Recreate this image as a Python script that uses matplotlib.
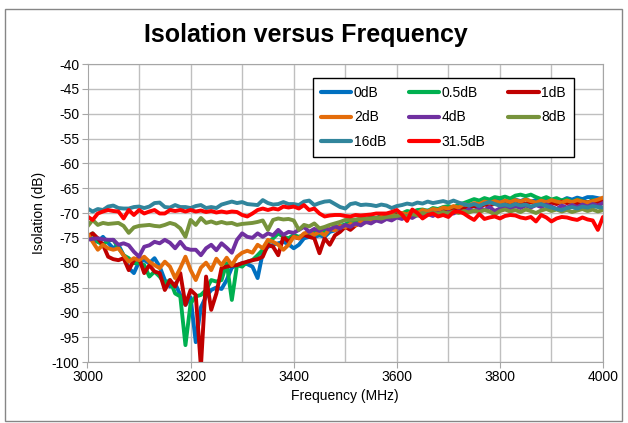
import numpy as np
import matplotlib
matplotlib.use('Agg')
import matplotlib.pyplot as plt
from matplotlib.patches import Rectangle
from matplotlib.ticker import MultipleLocator

plt.rcParams['font.family'] = ['Liberation Sans', 'DejaVu Sans']
plt.rcParams['axes.unicode_minus'] = False

# frequency axis, 10 MHz steps
freq = np.arange(3000, 4001, 10)

db0 = [-74.4, -75.5, -75.8, -74.8, -76.0, -77.1, -76.4, -78.5, -81.1, -82.1,
       -79.8, -79.5, -80.1, -79.1, -80.8, -83.5, -84.8, -84.2, -86.5, -88.5,
       -87.0, -96.0, -89.0, -86.8, -85.5, -85.0, -85.3, -83.5, -81.0, -80.5,
       -80.1, -80.3, -80.8, -83.1, -78.0, -76.8, -76.4, -76.1, -75.8, -76.3,
       -77.1, -76.4, -75.1, -74.8, -74.8, -74.5, -74.8, -73.8, -73.5, -73.0,
       -72.6, -72.2, -72.4, -71.6, -71.2, -71.0, -71.3, -70.8, -70.5, -70.8,
       -70.2, -70.5, -70.0, -69.8, -70.2, -69.6, -69.5, -69.8, -69.2, -69.4,
       -69.0, -68.8, -69.1, -68.4, -68.2, -68.5, -67.6, -67.2, -67.5, -67.1,
       -67.4, -67.8, -67.5, -67.3, -67.6, -67.2, -67.7, -67.4, -67.8, -67.3,
       -67.6, -67.2, -67.5, -67.0, -67.3, -66.9, -67.2, -66.8, -66.8, -67.0, -67.2]

db05 = [-74.8, -74.1, -75.8, -76.4, -75.5, -75.4, -77.0, -78.5, -79.1, -80.1,
        -80.1, -80.5, -82.8, -81.8, -82.8, -84.2, -83.5, -86.2, -86.8, -96.6,
        -88.2, -86.8, -86.5, -85.5, -83.5, -83.8, -83.5, -80.1, -87.5, -80.5,
        -80.8, -79.8, -79.5, -78.5, -77.4, -76.1, -75.1, -74.1, -74.8, -75.1,
        -74.4, -74.8, -74.4, -74.1, -73.8, -74.2, -73.6, -73.4, -72.8, -72.6,
        -72.3, -71.8, -72.0, -71.5, -71.2, -70.9, -71.0, -70.6, -70.4, -70.2,
        -69.8, -70.1, -69.6, -69.8, -69.4, -69.3, -69.6, -69.0, -69.2, -68.8,
        -68.6, -68.9, -68.3, -68.0, -67.6, -67.2, -67.5, -67.0, -67.3, -66.8,
        -67.0, -66.7, -67.1, -66.5, -66.3, -66.6, -66.3, -66.8, -67.2, -66.8,
        -67.3, -67.0, -67.5, -67.2, -67.8, -67.3, -67.6, -67.9, -67.4, -67.8, -68.0]

db1 = [-74.8, -74.1, -75.1, -76.4, -78.8, -79.3, -79.5, -79.1, -81.5, -79.5,
       -79.1, -82.1, -80.5, -81.8, -82.1, -85.5, -83.5, -84.8, -82.1, -88.5,
       -85.5, -86.5, -101.0, -82.8, -89.5, -86.2, -81.1, -80.8, -80.6, -80.5,
       -80.1, -79.8, -79.5, -79.3, -78.8, -76.4, -76.8, -78.5, -74.8, -75.8,
       -74.8, -75.1, -74.4, -74.8, -75.1, -78.1, -75.1, -76.4, -74.5, -73.8,
       -72.8, -73.4, -72.5, -72.0, -71.5, -71.2, -71.4, -70.9, -70.7, -70.9,
       -70.4, -70.6, -70.2, -70.4, -70.0, -70.2, -69.8, -70.0, -69.5, -69.7,
       -69.3, -69.5, -69.0, -69.2, -68.8, -68.6, -68.9, -68.3, -68.5, -68.1,
       -68.4, -68.2, -67.9, -68.3, -68.0, -68.2, -67.8, -68.1, -67.9, -68.3,
       -67.9, -68.2, -67.7, -68.0, -67.8, -68.1, -67.7, -67.9, -67.6, -67.8, -67.5]

db2 = [-74.1, -75.8, -77.4, -76.4, -77.1, -77.4, -77.1, -78.5, -79.8, -79.1,
       -79.5, -78.8, -79.8, -80.5, -81.1, -79.8, -80.8, -83.1, -81.1, -78.8,
       -81.5, -83.5, -81.0, -80.0, -81.5, -79.2, -80.5, -79.0, -80.5, -78.8,
       -78.0, -77.6, -78.0, -76.4, -77.1, -75.4, -75.8, -76.4, -77.4, -76.4,
       -74.8, -75.1, -74.1, -73.8, -74.4, -73.8, -74.5, -73.2, -73.5, -72.6,
       -72.9, -72.2, -72.5, -71.8, -71.9, -71.3, -71.5, -70.8, -71.0, -70.4,
       -70.6, -70.0, -70.3, -69.7, -70.0, -69.4, -69.7, -69.2, -69.4, -68.9,
       -69.1, -68.6, -68.9, -68.2, -68.5, -68.0, -68.2, -67.7, -68.0, -67.6,
       -67.9, -67.5, -67.8, -67.4, -67.7, -67.3, -67.6, -67.9, -67.5, -67.8,
       -67.4, -67.7, -67.9, -67.5, -67.8, -67.4, -67.7, -67.9, -67.6, -67.3, -66.9]

db4 = [-75.4, -75.2, -75.1, -75.3, -75.4, -75.4, -76.4, -76.1, -76.5, -77.8,
       -78.8, -76.8, -76.5, -75.8, -76.1, -75.4, -76.0, -77.1, -75.8, -77.1,
       -77.4, -77.4, -78.5, -77.1, -76.4, -77.5, -76.1, -77.0, -78.0, -75.4,
       -74.1, -74.8, -75.0, -74.1, -74.8, -74.1, -74.5, -73.4, -74.4, -73.8,
       -74.0, -73.4, -72.8, -73.8, -73.2, -73.6, -73.0, -73.4, -72.7, -73.1,
       -72.4, -72.8, -72.1, -72.5, -71.8, -72.1, -71.5, -71.8, -71.2, -71.5,
       -70.9, -71.2, -70.6, -71.0, -70.4, -70.8, -70.2, -70.6, -70.0, -70.4,
       -69.8, -70.1, -69.6, -69.9, -69.2, -69.6, -69.0, -69.4, -68.8, -69.6,
       -69.1, -68.7, -69.2, -68.6, -69.0, -68.5, -68.9, -68.4, -68.8, -68.3,
       -68.7, -69.2, -68.5, -68.9, -68.4, -68.8, -68.3, -68.7, -68.2, -68.5, -68.0]

db8 = [-72.7, -71.4, -72.4, -72.0, -72.2, -72.1, -72.0, -72.6, -74.0, -72.9,
       -72.6, -72.5, -72.4, -72.6, -72.7, -72.4, -72.0, -72.3, -73.1, -74.8,
       -71.4, -72.4, -71.0, -72.0, -71.7, -72.1, -71.8, -72.1, -72.0, -72.4,
       -72.2, -72.1, -72.0, -71.8, -71.5, -73.4, -71.4, -71.1, -71.3, -71.2,
       -71.5, -73.4, -72.4, -72.7, -72.1, -73.1, -72.8, -72.4, -72.1, -71.8,
       -71.4, -71.4, -71.3, -71.1, -71.2, -71.1, -71.0, -71.1, -70.8, -70.7,
       -70.6, -70.4, -70.7, -70.2, -70.5, -70.0, -70.3, -69.9, -70.2, -69.8,
       -70.1, -69.7, -70.0, -69.6, -69.9, -69.5, -69.8, -69.4, -69.7, -70.3,
       -69.6, -69.3, -69.7, -69.4, -69.8, -69.3, -69.6, -70.0, -69.5, -69.2,
       -69.6, -69.3, -69.7, -69.4, -69.8, -69.5, -69.2, -69.6, -69.3, -69.7, -69.4]

db16 = [-69.1, -69.7, -69.2, -69.4, -68.7, -68.5, -69.0, -69.1, -69.1, -68.8,
        -68.7, -69.0, -68.7, -68.0, -67.9, -68.8, -68.9, -68.4, -68.8, -68.8,
        -69.0, -68.6, -68.4, -69.0, -68.8, -69.0, -68.3, -68.0, -67.7, -68.0,
        -67.8, -68.2, -68.3, -68.4, -67.4, -68.0, -68.3, -68.2, -67.8, -68.2,
        -68.2, -68.4, -67.7, -67.5, -68.4, -68.0, -67.7, -67.6, -68.2, -68.8,
        -69.1, -68.2, -68.0, -68.4, -68.3, -68.4, -68.6, -68.3, -68.5, -69.0,
        -68.6, -68.4, -68.1, -68.3, -67.9, -68.1, -67.7, -68.0, -67.8, -67.6,
        -67.9, -67.5, -67.9, -68.2, -68.5, -68.2, -68.6, -68.1, -67.8, -68.2,
        -68.5, -68.3, -68.6, -68.2, -68.5, -68.3, -68.7, -68.4, -68.2, -68.6,
        -68.9, -69.2, -69.4, -69.0, -68.8, -69.1, -68.7, -68.9, -68.6, -68.8, -68.9]

db315 = [-70.7, -71.4, -70.1, -69.7, -69.4, -69.6, -69.7, -71.1, -69.4, -70.4,
         -69.4, -70.1, -69.7, -69.4, -70.1, -70.1, -69.4, -69.6, -69.4, -69.7,
         -69.4, -69.7, -69.5, -69.8, -69.6, -69.9, -69.7, -69.9, -69.7, -69.8,
         -70.4, -70.7, -70.1, -69.4, -69.1, -69.4, -69.1, -69.3, -68.7, -68.9,
         -68.7, -69.1, -68.4, -69.4, -69.1, -70.1, -70.7, -70.5, -70.4, -70.4,
         -70.6, -70.7, -70.4, -70.5, -70.4, -70.3, -70.1, -70.1, -70.1, -69.8,
         -69.4, -70.3, -71.6, -69.3, -70.0, -71.1, -70.4, -70.1, -70.7, -70.4,
         -70.8, -69.8, -69.7, -70.1, -70.8, -71.4, -70.2, -71.2, -70.9, -70.7,
         -71.1, -70.6, -70.4, -70.5, -70.9, -71.1, -70.8, -71.7, -70.4, -70.9,
         -71.7, -71.1, -70.8, -70.9, -71.2, -71.4, -70.9, -71.3, -71.5, -73.4, -70.8]

labels = ['0dB', '0.5dB', '1dB', '2dB', '4dB', '8dB', '16dB', '31.5dB']
colors = ['#0070C0', '#00B050', '#C00000', '#E46C0A', '#7030A0', '#77933C', '#31859C', '#FF0000']
series = [db0, db05, db1, db2, db4, db8, db16, db315]

fig = plt.figure(figsize=(6.28, 4.23), dpi=100)
fig.patches.append(Rectangle((5/628, 2/423), 617/628, 412/423, transform=fig.transFigure,
                             fill=False, edgecolor='#868686', linewidth=1))

ax = fig.add_axes([87.5/628, 1-362/423, 515.5/628, 298/423])
lines = []
for vals, lab, col in zip(series, labels, colors):
    ln, = ax.plot(freq, vals, color=col, linewidth=2.8, label=lab, solid_capstyle='round',
                  solid_joinstyle='round')
    lines.append(ln)

ax.set_xlim(3000, 4000)
ax.set_ylim(-100, -40)
ax.xaxis.set_major_locator(MultipleLocator(200))
ax.xaxis.set_minor_locator(MultipleLocator(100))
ax.yaxis.set_major_locator(MultipleLocator(5))
ax.grid(True, which='both', color='#bfbfbf', linewidth=1)
ax.set_axisbelow(True)
for s in ax.spines.values():
    s.set_color('#a6a6a6')
ax.tick_params(which='both', length=4, color='#a6a6a6', labelsize=10, pad=2)
ax.tick_params(which='minor', length=0)

ax.set_xlabel('Frequency (MHz)', fontsize=10, labelpad=3)
ax.set_ylabel('Isolation (dB)', fontsize=10, labelpad=4)
fig.text(306/628, 1-35/423, 'Isolation versus Frequency', ha='center', va='center',
         fontsize=18, fontweight='bold')

# legend filled row by row like the original
order = [0, 3, 6, 1, 4, 7, 2, 5]
leg = ax.legend([lines[i] for i in order], [labels[i] for i in order], ncol=3,
                loc='upper left', bbox_to_anchor=(313/628, 1-78/423),
                bbox_transform=fig.transFigure, fontsize=10, frameon=True, fancybox=False,
                edgecolor='black', framealpha=1, handlelength=2.2, handletextpad=0.2,
                columnspacing=1.6, labelspacing=0.78, borderpad=0.55, borderaxespad=0)
leg.get_frame().set_linewidth(1)
for h in leg.get_lines():
    h.set_linewidth(3)

fig.savefig('out.png', dpi=100)
